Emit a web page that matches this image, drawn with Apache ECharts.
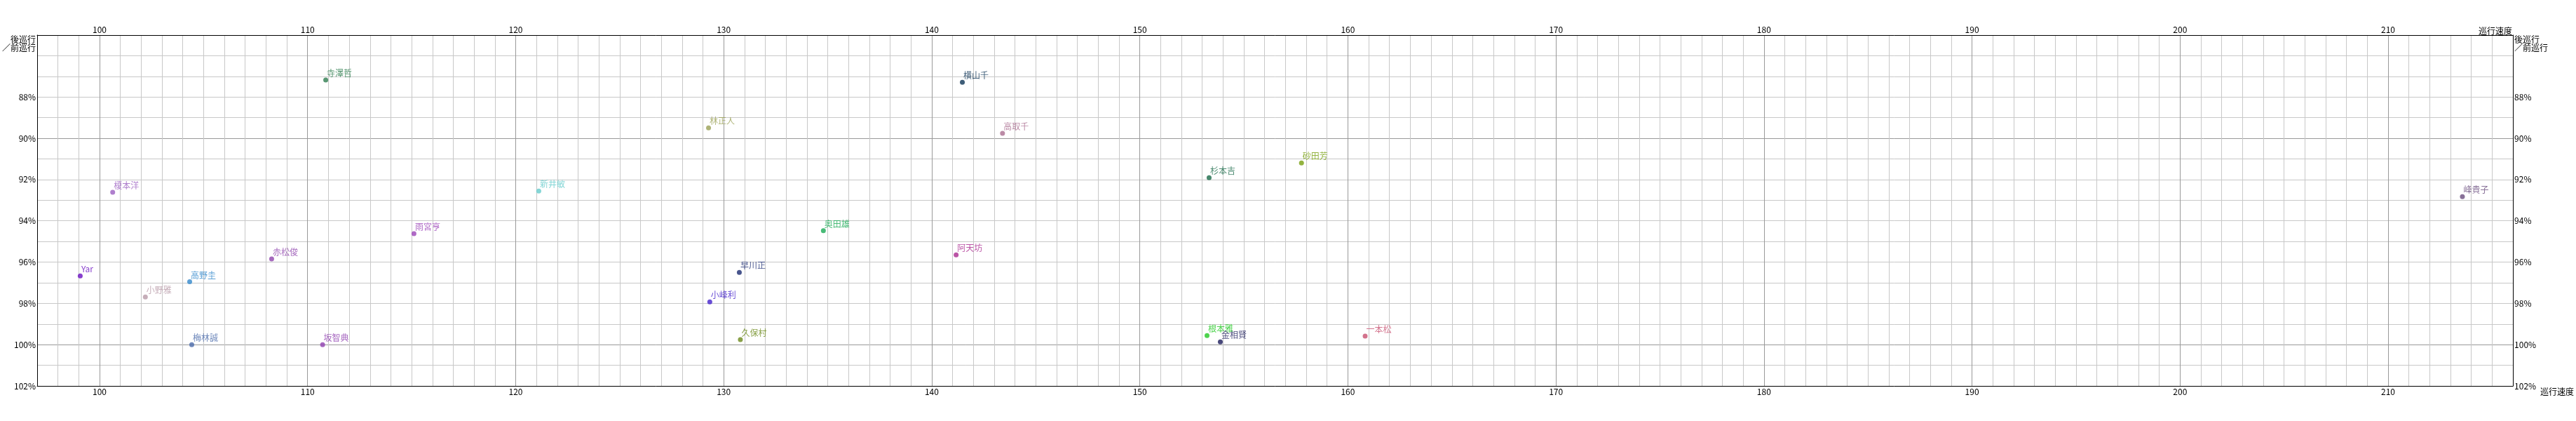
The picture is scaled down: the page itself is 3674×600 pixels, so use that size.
<!DOCTYPE html>
<html>
<head>
<meta charset="utf-8">
<script src="https://cdn.jsdelivr.net/npm/echarts@6/dist/echarts.min.js"></script>
<style>
html,body{margin:0;padding:0;background:#fff;}
#chart{width:3674px;height:600px;}
</style>
</head>
<body>
<div id="chart"></div>
<script>
// ---- data ----
const names = ['Yar','榎本洋','高野圭','小野雅','梅林誠','赤松俊','寺澤哲','坂智典','雨宮亨','新井敏','林正人','小峰利','早川正','久保村','奥田雄','阿天坊','横山千','高取千','杉本吉','砂田芳','根本雅','金相賢','一本松','峰貴子'];
const speeds = [99.07,100.63,104.33,102.2,104.43,108.27,110.87,110.72,115.11,121.11,129.27,129.33,130.75,130.8,134.79,141.17,141.47,143.4,153.33,157.77,153.23,153.87,160.83,213.57];
const ratios = [96.67,92.62,96.95,97.69,100.0,95.85,87.18,100.0,94.62,92.56,89.5,97.93,96.5,99.76,94.48,95.65,87.29,89.76,91.91,91.2,99.56,99.87,99.59,92.83];
const xTickLabels = [100,110,120,130,140,150,160,170,180,190,200,210];
const yTickLabels = ['88%','90%','92%','94%','96%','98%','100%','102%'];
const xName = '巡行速度';
const yName = '後巡行\n／前巡行';
// ---- styles ----
const pointColors = ['#6a10c0','#9b5fc0','#3388cc','#b89aa8','#4a6aaa','#8e44ad','#2e7d4f','#9040b0','#9b44b8','#66cccc','#9aa055','#4422cc','#1a2a70','#6b8a1a','#1aaa55','#aa2a90','#0e3556','#aa6e90','#1a6a48','#78a010','#22c822','#1a1a5a','#c85070','#6a4e7e'];

const FONT = '"Noto Sans CJK JP", sans-serif';
const light = '#c8c8c8', dark = '#999999';
function cyc(darkIdx){ const a=[]; for(let i=0;i<10;i++) a.push(i===darkIdx?dark:light); return a; }

const xLabelSet = new Set(xTickLabels.map(String));
const yLabelSet = new Set(yTickLabels);
function xFmt(v){ const s=String(Math.round(v)); return xLabelSet.has(s)?s:''; }
function yFmt(v){ const s=Math.round(v)+'%'; return yLabelSet.has(s)?s:''; }

const xBase = {
  type:'value', min:97, max:216, interval:1,
  axisLine:{show:true,onZero:false,lineStyle:{color:'#000',width:1}},
  axisTick:{show:false},
  axisLabel:{formatter:xFmt,color:'#000',fontFamily:FONT,fontSize:12,margin:2},
  name:xName, nameLocation:'end', nameGap:-1,
  nameTextStyle:{color:'#000',fontFamily:FONT,fontSize:12,align:'right'}
};
const yBase = {
  type:'value', min:85, max:102, interval:1, inverse:true,
  axisLine:{show:true,onZero:false,lineStyle:{color:'#000',width:1}},
  axisTick:{show:false},
  axisLabel:{formatter:yFmt,color:'#000',fontFamily:FONT,fontSize:12,margin:2},
  name:yName, nameLocation:'start', nameGap:0,
  nameTextStyle:{color:'#000',fontFamily:FONT,fontSize:12,verticalAlign:'top',lineHeight:12}
};

const data = names.map((n,i)=>({
  name:n, value:[speeds[i], ratios[i]],
  itemStyle:{color:pointColors[i]},
  label:{color:pointColors[i]}
}));

const chart = echarts.init(document.getElementById('chart'), null, {renderer:'canvas'});
chart.setOption({
  animation:false,
  backgroundColor:'#fff',
  grid:{left:53,right:52,top:50,bottom:50,containLabel:false},
  xAxis:[
    Object.assign({}, xBase, {position:'bottom',
      splitLine:{show:true,lineStyle:{color:cyc(3),width:1}},
      nameTextStyle:Object.assign({},xBase.nameTextStyle,{verticalAlign:'top',padding:[2,0,0,0]})}),
    Object.assign({}, xBase, {position:'top', splitLine:{show:false},
      nameTextStyle:Object.assign({},xBase.nameTextStyle,{verticalAlign:'bottom',padding:[0,0,0,0]})})
  ],
  yAxis:[
    Object.assign({}, yBase, {position:'left',
      splitLine:{show:true,lineStyle:{color:cyc(5),width:1}},
      nameTextStyle:Object.assign({},yBase.nameTextStyle,{align:'right',padding:[0,2,0,0]})}),
    Object.assign({}, yBase, {position:'right', splitLine:{show:false},
      nameTextStyle:Object.assign({},yBase.nameTextStyle,{align:'left',padding:[0,0,0,2]})})
  ],
  series:[{
    type:'scatter', xAxisIndex:0, yAxisIndex:0,
    symbol:'circle', symbolSize:7,
    data:data,
    label:{show:true, formatter:'{b}', position:[5,0], align:'left', verticalAlign:'bottom',
      fontFamily:FONT, fontSize:12},
    labelLayout:{hideOverlap:false}
  }]
});
</script>
</body>
</html>
